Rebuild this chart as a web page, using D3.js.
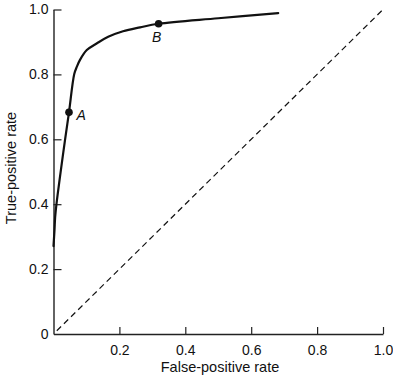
<!DOCTYPE html>
<html>
<head>
<meta charset="utf-8">
<script src="https://cdn.jsdelivr.net/npm/d3@7"></script>
<style>
  html, body { margin: 0; padding: 0; background: #fff; }
  svg { display: block; }
  text { font-family: "Liberation Sans", Arial, Helvetica, sans-serif; fill: #111; }
  .tick text { font-size: 14px; }
</style>
</head>
<body>
<svg id="chart" width="393" height="380"></svg>
<script>
// ROC curve data
const fpr = [0, 0.003, 0.005, 0.009, 0.035, 0.047, 0.063, 0.071, 0.080, 0.101, 0.132, 0.166, 0.211, 0.263, 0.319, 0.50, 0.682];
const tpr = [0.271, 0.32, 0.36, 0.40, 0.598, 0.683, 0.801, 0.824, 0.844, 0.875, 0.896, 0.916, 0.933, 0.945, 0.956, 0.973, 0.989];
const pointLabels = ["A", "B"];
const pointFpr = [0.047, 0.319];
const pointTpr = [0.683, 0.956];
const diagonal = [[0.01, 0.01], [1, 1]];
const xTicks = [0.2, 0.4, 0.6, 0.8, 1.0];
const yTicks = [0, 0.2, 0.4, 0.6, 0.8, 1.0];
const xTitle = "False-positive rate";
const yTitle = "True-positive rate";

const svg = d3.select("#chart");
const x = d3.scaleLinear().domain([0, 1]).range([53.5, 383]);
const y = d3.scaleLinear().domain([0, 1]).range([334, 9.5]);

const fmt = d => d === 0 ? "0" : d3.format(".1f")(d);

// x axis
const gx = svg.append("g").attr("transform", `translate(0,${y(0)})`)
  .call(d3.axisBottom(x).tickValues(xTicks).tickFormat(fmt)
    .tickSizeInner(-7).tickSizeOuter(0).tickPadding(11.5));
// y axis
const gy = svg.append("g").attr("transform", `translate(${x(0)},0)`)
  .call(d3.axisLeft(y).tickValues(yTicks).tickFormat(fmt)
    .tickSizeInner(-8).tickSizeOuter(0).tickPadding(5));

[gx, gy].forEach(g => {
  g.attr("font-size", null).attr("font-family", null);
  g.selectAll("path.domain").attr("stroke", "#222").attr("stroke-width", 1.4);
  g.selectAll(".tick line").attr("stroke", "#222").attr("stroke-width", 1.2);
  g.selectAll(".tick text").attr("fill", "#111").attr("font-size", 14)
    .style("font-size", "14px");
});
gy.selectAll(".tick").filter(d => d === 0).select("line").remove();

// diagonal
svg.append("path")
  .attr("d", d3.line().x(d => x(d[0])).y(d => y(d[1]))(diagonal))
  .attr("fill", "none").attr("stroke", "#111").attr("stroke-width", 1.2)
  .attr("stroke-dasharray", "6,4");

// ROC curve
const pts = fpr.map((f, i) => [f, tpr[i]]);
svg.append("path")
  .attr("d", d3.line().x(d => x(d[0])).y(d => y(d[1])).curve(d3.curveCatmullRom.alpha(0.5))(pts))
  .attr("fill", "none").attr("stroke", "#111").attr("stroke-width", 2.2)
  .attr("stroke-linejoin", "round").attr("stroke-linecap", "round");

// points
const ptData = pointLabels.map((l, i) => ({ l, f: pointFpr[i], t: pointTpr[i] }));
svg.selectAll("circle.pt").data(ptData).enter().append("circle")
  .attr("class", "pt").attr("cx", d => x(d.f)).attr("cy", d => y(d.t)).attr("r", 3.8)
  .attr("fill", "#111");
svg.selectAll("text.pl").data(ptData).enter().append("text")
  .attr("class", "pl")
  .attr("x", d => d.l === "A" ? x(d.f) + 7.5 : x(d.f) - 6.5)
  .attr("y", d => d.l === "A" ? y(d.t) + 8 : y(d.t) + 18)
  .style("font-size", "14px").style("font-style", "italic")
  .text(d => d.l);

// axis titles
svg.append("text").attr("x", 220).attr("y", 372).attr("text-anchor", "middle")
  .style("font-size", "14.5px").text(xTitle);
svg.append("text").attr("transform", "translate(16,168) rotate(-90)")
  .attr("text-anchor", "middle").style("font-size", "14.5px").text(yTitle);
</script>
</body>
</html>
